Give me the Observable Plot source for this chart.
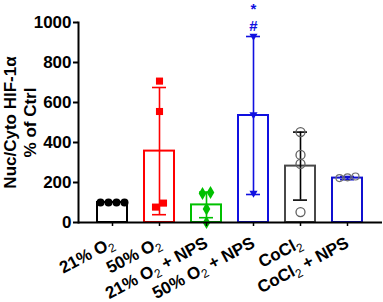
<!DOCTYPE html>
<html><head><meta charset="utf-8">
<script src="https://cdn.jsdelivr.net/npm/d3@7"></script>
<script src="https://cdn.jsdelivr.net/npm/@observablehq/plot@0.6"></script>
<style>body{margin:0;background:#fff} svg{display:block}</style>
</head><body><div id="chart"></div>
<script>
// ---- data ----
const groups = ["21% O₂", "50% O₂", "21% O₂ + NPS", "50% O₂ + NPS", "CoCl₂", "CoCl₂ + NPS"];
const means = [100, 357, 88, 535, 282, 222];
const sds = [0, 318, 64, 395, 170, 8];
const rep1 = [100, 100, 100, 100];
const rep2 = [707, 555, 77, 97];
const rep3 = [150, 145, 68, 0];
const rep4 = [932, 540, 147];
const rep5 = [452, 338, 293, 52];
const rep6 = [230, 222, 226];
const replicates = [rep1, rep2, rep3, rep4, rep5, rep6];
const yTicks = [0, 200, 400, 600, 800, 1000];
const yLabel = "Nuc/Cyto HIF-1α\n% of Ctrl";
const sigStar = "*";
const sigHash = "#";

// ---- styles ----
const barColors = ["#000000", "#ff0000", "#00c000", "#1010e0", "#484848", "#1010d0"];
const errColors = ["#000000", "#ff0000", "#00c000", "#1010e0", "#000000", "#1010d0"];
const triangleDown = {
  draw(ctx, size) {
    const a = Math.sqrt(4 * size / Math.sqrt(3));
    const h = a * Math.sqrt(3) / 2;
    ctx.moveTo(-a / 2, -h / 3);
    ctx.lineTo(a / 2, -h / 3);
    ctx.lineTo(0, 2 * h / 3);
    ctx.closePath();
  }
};
const pointStyles = [
  {symbol: "circle", r: 4, fill: "#000", stroke: "none"},
  {symbol: "square", r: 4, fill: "#ff0000", stroke: "none"},
  {symbol: "diamond", r: 4, fill: "#00c000", stroke: "none"},
  {symbol: triangleDown, r: 3, fill: "#1010e0", stroke: "none"},
  {symbol: "circle", r: 4.5, fill: "none", stroke: "#606060", strokeWidth: 1.3},
  {symbol: "circle", r: 3.5, fill: "none", stroke: "#707070", strokeWidth: 1.2}
];
const FONT = 17;

// spread near-equal replicates horizontally (like a column scatter)
function spread(vals, tol = 30, step = 8) {
  const idx = vals.map((v, i) => i).sort((a, b) => vals[a] - vals[b]);
  const off = new Array(vals.length).fill(0);
  let cluster = [idx[0]];
  const flush = () => {
    const n = cluster.length;
    cluster.forEach((j, k) => off[j] = (k - (n - 1) / 2) * step);
  };
  for (let k = 1; k < idx.length; k++) {
    if (vals[idx[k]] - vals[cluster[cluster.length - 1]] < tol) cluster.push(idx[k]);
    else { flush(); cluster = [idx[k]]; }
  }
  flush();
  return off;
}

const idx = groups.map((g, i) => i);
const withErr = idx.filter(i => sds[i] > 0);

const pointMarks = [];
replicates.forEach((vals, gi) => {
  const offs = spread(vals);
  vals.forEach((v, k) => {
    pointMarks.push(Plot.dot([v], {x: () => groups[gi], y: d => d, dx: offs[k], ...pointStyles[gi]}));
  });
});

const chart = Plot.plot({
  width: 383,
  height: 302,
  marginTop: 22,
  marginBottom: 80,
  marginLeft: 78,
  marginRight: 1,
  style: {fontFamily: "Liberation Sans, Arial, sans-serif", fontSize: FONT + "px", fontWeight: "bold", color: "#000", background: "#fff"},
  x: {type: "band", domain: groups, range: [87.3, 371.7], paddingInner: 0.367, paddingOuter: 0.1835},
  y: {domain: [0, 1000]},
  marks: [
    Plot.barY(idx, {x: i => groups[i], y: i => means[i], fill: "white", stroke: i => barColors[i], strokeWidth: 2}),
    Plot.ruleX(withErr, {x: i => groups[i], y1: i => Math.max(0, means[i] - sds[i]), y2: i => means[i] + sds[i], stroke: i => errColors[i], strokeWidth: 1.6}),
    Plot.tickY(withErr, {x: i => groups[i], y: i => means[i] + sds[i], stroke: i => errColors[i], strokeWidth: 1.6, insetLeft: 8, insetRight: 8}),
    Plot.tickY(withErr, {x: i => groups[i], y: i => Math.max(0, means[i] - sds[i]), stroke: i => errColors[i], strokeWidth: 1.6, insetLeft: 8, insetRight: 8}),
    ...pointMarks,
    Plot.ruleY([0], {strokeWidth: 2}),
    Plot.frame({anchor: "left", strokeWidth: 2}),
    Plot.axisY({ticks: yTicks, tickFormat: d3.format("d"), tickSize: 5, tickPadding: 2, strokeWidth: 2, label: null, fontSize: FONT, fontWeight: "bold"}),
    Plot.axisX({tickSize: 4, strokeWidth: 1.5, tickFormat: () => "", label: null}),
    Plot.text(groups, {x: d => d, text: d => d, frameAnchor: "bottom", rotate: -28, textAnchor: "end", lineAnchor: "middle", dx: 0, dy: 19, fontSize: FONT, fontWeight: "bold"}),
    Plot.text([yLabel], {text: d => d, frameAnchor: "left", rotate: -90, dx: -59, textAnchor: "middle", lineAnchor: "middle", lineHeight: 1.15, fontSize: FONT, fontWeight: "bold"}),
    Plot.text([sigStar], {x: () => groups[3], y: () => means[3] + sds[3], text: d => d, dy: -27, fill: "#1010e0", fontSize: 15, fontWeight: "bold"}),
    Plot.text([sigHash], {x: () => groups[3], y: () => means[3] + sds[3], text: d => d, dy: -10, fill: "#1010e0", fontSize: 15, fontWeight: "bold"})
  ]
});

// render subscript 2 as a real lowered smaller glyph
const NS = "http://www.w3.org/2000/svg";
chart.querySelectorAll("text").forEach(t => {
  const targets = t.querySelectorAll("tspan").length ? [...t.querySelectorAll("tspan")] : [t];
  targets.forEach(el => {
    if (!el.textContent.includes("₂")) return;
    const parts = el.textContent.split("₂");
    el.textContent = "";
    parts.forEach((p, i) => {
      if (i > 0) {
        const s = document.createElementNS(NS, "tspan");
        s.textContent = "2";
        s.setAttribute("font-size", "12");
        s.setAttribute("font-weight", "normal");
        s.setAttribute("dy", "4");
        el.appendChild(s);
      }
      if (p) {
        const s = document.createElementNS(NS, "tspan");
        s.textContent = p;
        if (i > 0) s.setAttribute("dy", "-4");
        el.appendChild(s);
      }
    });
  });
});

document.getElementById("chart").appendChild(chart);
</script>
</body></html>
